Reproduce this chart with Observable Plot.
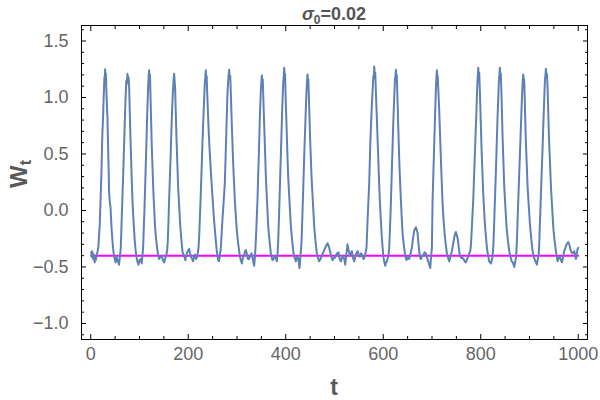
<!DOCTYPE html>
<html>
<head>
<meta charset="utf-8">
<script src="https://cdn.jsdelivr.net/npm/d3@7"></script>
<script src="https://cdn.jsdelivr.net/npm/@observablehq/plot@0.6"></script>
<style>
  html, body { margin: 0; padding: 0; background: #fff; }
  #chart { width: 600px; height: 400px; }
</style>
</head>
<body>
<div id="chart"></div>
<script>
// ---- data ----
const titleText = "=0.02";
const xLabel = "t";
const xTicks = [0, 200, 400, 600, 800, 1000];
const xMinorTicks = [50, 100, 150, 250, 300, 350, 450, 500, 550, 650, 700, 750, 850, 900, 950];
const yTicks = [-1.0, -0.5, 0.0, 0.5, 1.0, 1.5];
const yMinorTicks = [-1.1, -0.9, -0.8, -0.7, -0.6, -0.4, -0.3, -0.2, -0.1, 0.1, 0.2, 0.3, 0.4, 0.6, 0.7, 0.8, 0.9, 1.1, 1.2, 1.3, 1.4, 1.6];
const xDomain = [-19, 1019];
const yDomain = [-1.142, 1.637];
const baselineW = -0.4;
const baselineSpan = [1, 1000];

// W_t samples [t, W]
const wtSeries = [
  [1,-0.37],[2,-0.41],[3,-0.36],[4,-0.40],[5,-0.43],[6,-0.39],[8,-0.46],[9,-0.42],[10,-0.44],[12,-0.40],[14,-0.36],
  [15.7,-0.32],[17,-0.22],[18.5,-0.12],[20.5,0.15],[22,0.35],[23.2,0.59],[24,0.70],[25.3,0.83],[26.3,0.98],[27.3,1.09],[28,1.18],[28.7,1.14],[29.4,1.25],[30.2,1.19],[31,1.21],[32,1.06],[33,0.95],[34.2,0.83],[35.6,0.55],[36.5,0.40],[37.6,0.16],[39,0.08],[40.5,0.03],[42.5,-0.15],[44,-0.24],[45.5,-0.32],[47,-0.38],[49,-0.43],[51,-0.46],[53,-0.41],[55,-0.44],[58,-0.48],[60,-0.40],
  [61.6,-0.33],[63.6,-0.06],[65,0.12],[66.4,0.30],[67.8,0.50],[69.1,0.68],[70.5,0.88],[71.8,1.04],[73,1.15],[74,1.12],[75.3,1.21],[76.5,1.16],[77.5,1.18],[78.7,1.10],[80,0.88],[81.4,0.65],[82.8,0.45],[84.1,0.27],[85.5,0.10],[86.9,-0.03],[88.5,-0.15],[90.3,-0.27],[92,-0.35],[93.7,-0.41],[95.5,-0.45],[97.8,-0.48],[100,-0.44],[102.6,-0.43],[104.5,-0.47],[106,-0.40],
  [107.4,-0.33],[108.8,-0.15],[110.1,0.00],[111.5,0.20],[112.9,0.41],[114.3,0.62],[115.6,0.83],[116.7,0.97],[117.7,1.09],[118.7,1.18],[119.7,1.24],[120.7,1.17],[121.5,1.20],[122.4,1.04],[123.8,0.80],[125.2,0.56],[126.9,0.35],[128.6,0.15],[130.3,0.00],[132,-0.15],[134,-0.25],[136.1,-0.33],[138,-0.39],[140.2,-0.43],[143,-0.41],[145.7,-0.40],[148,-0.44],[150.5,-0.46],[153,-0.42],[155.3,-0.39],[156.8,-0.35],
  [158,-0.27],[159.4,-0.10],[160.7,0.09],[162.5,0.31],[164.2,0.53],[165.5,0.72],[166.9,0.89],[168,1.00],[169,1.09],[170,1.16],[171,1.21],[172,1.15],[173,1.09],[174.4,0.87],[175.8,0.65],[177.5,0.43],[179.2,0.21],[181.2,0.05],[183.3,-0.12],[185.7,-0.25],[188.1,-0.36],[190,-0.39],[192.2,-0.41],[194,-0.44],[196.3,-0.39],[199,-0.36],[201.8,-0.34],[204,-0.38],[205.9,-0.41],[208,-0.43],[210,-0.45],[212,-0.41],[214.1,-0.39],[216,-0.43],[217.5,-0.42],[219.5,-0.38],[221,-0.33],
  [222.3,-0.24],[224,-0.05],[225.7,0.15],[227.4,0.37],[229.1,0.59],[230.5,0.76],[231.9,0.91],[233,1.03],[233.9,1.12],[235,1.18],[236,1.24],[237,1.16],[237.8,1.19],[238.7,1.06],[240.4,0.87],[242.1,0.68],[244.2,0.51],[246.3,0.35],[248.5,0.20],[250.5,0.07],[253,-0.09],[254.8,-0.18],[256.6,-0.27],[258.3,-0.35],[260,-0.41],[261.5,-0.44],[263,-0.45],[264.8,-0.40],
  [266.8,-0.33],[268.4,-0.21],[270,-0.09],[272.5,0.07],[275,0.24],[276.8,0.50],[278.5,0.75],[279.5,0.90],[280.5,1.04],[281.7,1.13],[282.8,1.20],[283.9,1.245],[285,1.17],[286.2,1.19],[287.3,1.04],[288.3,0.90],[289.4,0.75],[291,0.55],[292.8,0.35],[294.2,0.22],[295.6,0.09],[297.6,-0.05],[299.7,-0.18],[302,-0.28],[304.4,-0.36],[306,-0.41],[307.9,-0.44],[310,-0.47],[312,-0.42],[314,-0.40],[316,-0.37],[318,-0.35],[320,-0.38],[322.5,-0.43],[325,-0.43],[327,-0.40],[329.8,-0.38],[332,-0.42],[333.5,-0.46],[335.2,-0.49],[337,-0.40],
  [338.6,-0.27],[340.3,-0.09],[342,0.09],[343.4,0.30],[344.8,0.50],[345.9,0.67],[346.9,0.83],[347.9,0.95],[348.9,1.06],[350,1.14],[351,1.195],[352,1.14],[352.8,1.16],[353.7,1.04],[355,0.86],[356.4,0.68],[357.8,0.49],[359.2,0.30],[360.8,0.15],[362.4,0.01],[364,-0.14],[366.7,-0.27],[369.4,-0.38],[371,-0.41],[372.8,-0.44],[375,-0.43],[377.6,-0.40],[379.7,-0.42],[381.7,-0.45],[383.2,-0.38],
  [384.5,-0.27],[385.9,-0.09],[387.2,0.09],[388.6,0.30],[390,0.50],[391.4,0.70],[392.7,0.89],[393.7,1.01],[394.7,1.12],[395.8,1.19],[396.8,1.263],[397.8,1.18],[398.6,1.21],[399.5,1.04],[400.9,0.85],[402.3,0.65],[403.6,0.47],[405,0.30],[406.8,0.15],[408.6,0.01],[410.5,-0.14],[413.2,-0.27],[416,-0.38],[418.3,-0.42],[420.7,-0.45],[423,-0.41],[425.5,-0.42],[427,-0.47],[428.2,-0.51],[430,-0.42],[431.2,-0.35],
  [432.4,-0.27],[433.8,-0.09],[435.1,0.09],[436.5,0.28],[437.8,0.47],[439.2,0.65],[440.6,0.83],[441.6,0.95],[442.6,1.06],[443.7,1.15],[444.7,1.204],[445.6,1.14],[446.4,1.16],[447.4,1.01],[448.8,0.81],[450.1,0.62],[451.5,0.46],[452.9,0.30],[454.7,0.15],[456.5,0.01],[458.3,-0.14],[461,-0.27],[463.8,-0.38],[466,-0.42],[468.6,-0.45],[471,-0.43],[473.4,-0.41],[476,-0.38],[478.9,-0.35],[482,-0.32],[485.7,-0.29],[488.5,-0.32],[491.2,-0.37],[493.5,-0.41],[496,-0.44],[498.5,-0.42],[500.7,-0.42],[502.8,-0.40],[504.9,-0.38],[507,-0.40],[508.3,-0.37],[510,-0.42],[513,-0.45],[515.5,-0.42],[517.8,-0.40],[520,-0.43],[522,-0.48],[524,-0.40],[526.7,-0.30],[528.5,-0.34],[531.5,-0.40],[533.5,-0.38],[535.6,-0.36],[538,-0.42],[540.4,-0.45],[542.5,-0.41],[544.8,-0.38],[547.3,-0.36],[549.5,-0.39],[552,-0.41],[554.5,-0.38],[557.5,-0.40],[559.3,-0.43],[561,-0.42],[562.8,-0.39],[564.4,-0.36],
  [565.7,-0.33],[567.8,-0.09],[569.5,0.08],[571.2,0.24],[573.3,0.57],[574.6,0.72],[576,0.87],[577.4,1.00],[578.7,1.10],[579.7,1.19],[580.6,1.17],[581.5,1.274],[582.5,1.20],[583.6,1.22],[585,1.04],[586,0.92],[587,0.81],[588.3,0.64],[589.7,0.48],[591.3,0.27],[593,0.09],[594.8,-0.06],[596.5,-0.20],[598.5,-0.32],[600.6,-0.42],[602.3,-0.46],[604,-0.49],[605.7,-0.46],[607.4,-0.45],[609.2,-0.42],[610.9,-0.40],
  [612.2,-0.33],[613.6,-0.18],[615,-0.02],[616.4,0.18],[617.8,0.38],[619.2,0.58],[620.5,0.77],[621.9,0.93],[623,1.05],[624.1,1.16],[625,1.19],[626,1.245],[627,1.17],[627.8,1.20],[628.7,1.06],[629.6,0.93],[630.9,0.72],[632.8,0.45],[634.5,0.26],[636.2,0.09],[637.9,-0.06],[639.6,-0.20],[642,-0.30],[644.4,-0.38],[646,-0.42],[647.8,-0.44],[650.5,-0.41],[653.3,-0.43],[656,-0.38],[658.8,-0.33],[661,-0.25],[663.5,-0.18],[665.2,-0.16],[667,-0.15],[668.7,-0.17],[670.4,-0.20],[672,-0.28],[673.8,-0.36],[675.5,-0.41],[677.2,-0.43],[679.6,-0.40],[682,-0.40],[684.7,-0.37],[687.5,-0.38],[690,-0.42],[692.3,-0.45],[694.4,-0.48],[696.4,-0.51],[698,-0.42],[699.8,-0.33],
  [701.2,0.09],[702.9,0.34],[704.6,0.59],[706,0.80],[707.3,0.98],[708.2,1.10],[709.1,1.18],[710,1.24],[711,1.17],[711.8,1.19],[712.9,1.07],[714.8,0.89],[716.5,0.67],[718.3,0.45],[720,0.25],[721.7,0.06],[723.7,-0.08],[725.8,-0.20],[728.2,-0.30],[730.6,-0.38],[733,-0.42],[735.4,-0.45],[738,-0.41],[740.8,-0.36],[743.2,-0.30],[745.6,-0.24],[747.3,-0.21],[749,-0.19],[751,-0.22],[753.1,-0.26],[755,-0.33],[757.2,-0.40],[760,-0.42],[762.7,-0.42],[764.8,-0.43],[767,-0.45],[769.6,-0.46],[772,-0.43],[774.3,-0.41],[776.4,-0.38],[778.5,-0.36],
  [780,-0.30],[781.2,-0.20],[782.9,-0.05],[784.6,0.09],[786.3,0.30],[788,0.50],[789.4,0.67],[790.8,0.83],[791.8,0.97],[792.8,1.10],[793.9,1.19],[794.9,1.263],[795.9,1.18],[796.9,1.22],[798.3,1.04],[800,0.79],[801.7,0.54],[803.4,0.34],[805.1,0.15],[806.8,0.01],[808.5,-0.12],[810.6,-0.23],[812.7,-0.33],[815,-0.40],[817.4,-0.45],[819,-0.46],[820.9,-0.47],[822.6,-0.44],[824.3,-0.41],[826,-0.30],
  [827.7,-0.09],[829.4,0.13],[831.1,0.35],[832.8,0.59],[834.5,0.83],[835.9,0.99],[837.3,1.15],[838.3,1.20],[839.3,1.263],[840.3,1.19],[841.2,1.21],[842.1,1.09],[843.5,0.87],[844.8,0.65],[846.5,0.43],[848.2,0.21],[850.6,0.03],[853,-0.15],[855.8,-0.27],[858.5,-0.36],[861,-0.41],[863.3,-0.45],[866,-0.46],[868.7,-0.50],[870.5,-0.46],[872.2,-0.42],[873.2,-0.36],
  [874.2,-0.27],[875.6,-0.09],[877,0.09],[878.7,0.30],[880.4,0.50],[881.8,0.67],[883.1,0.83],[884.2,0.96],[885.2,1.06],[886.2,1.15],[887.2,1.204],[888.2,1.14],[889,1.16],[890,1.03],[891.3,0.81],[892.7,0.59],[894.4,0.40],[896.1,0.21],[898.5,0.04],[900.9,-0.12],[903.6,-0.25],[906.4,-0.36],[908.8,-0.41],[911.2,-0.44],[913.2,-0.46],[915.2,-0.48],[917,-0.43],[918.7,-0.40],[919.8,-0.31],
  [920.7,-0.20],[922.1,-0.03],[923.5,0.15],[925.2,0.36],[926.9,0.56],[928.2,0.74],[929.6,0.91],[930.7,1.04],[931.7,1.15],[932.7,1.20],[933.7,1.254],[934.7,1.18],[935.7,1.21],[937.1,1.09],[938.5,0.87],[939.9,0.65],[942,0.43],[944,0.21],[946.4,0.03],[948.8,-0.15],[951.5,-0.27],[954.2,-0.36],[956,-0.41],[957.7,-0.45],[960,-0.42],[962.4,-0.41],[964.5,-0.44],[966.6,-0.46],[969,-0.41],[971.3,-0.36],[973.7,-0.33],[976.1,-0.30],[979.5,-0.28],[981.6,-0.30],[983.7,-0.34],[986,-0.37],[988.4,-0.38],[990,-0.37],[991.9,-0.36],[993.6,-0.40],[995.3,-0.43],[997,-0.38],[998.7,-0.34],[1000,-0.33]
];

// ---- chart ----
const W = 600, H = 400;
const mL = 81, mR = 13, mT = 25, mB = 61;
const tickColor = "#000";
const labelColor = "#666";
const fmtY = d => (Math.abs(d) < 1e-9 ? "0.0" : d.toFixed(1).replace("-", "\u2212"));
const fmtX = d => String(d);
const series = wtSeries.map(([t, w]) => ({t, w}));
const baseRows = baselineSpan.map(t => ({t, w: baselineW}));

const chart = Plot.plot({
  width: W, height: H,
  marginLeft: mL, marginRight: mR, marginTop: mT, marginBottom: mB,
  style: {fontFamily: "'Liberation Sans', Arial, sans-serif", background: "#fff", color: labelColor, overflow: "visible"},
  x: {domain: xDomain, label: null},
  y: {domain: yDomain, label: null},
  marks: [
    Plot.line(baseRows, {x: "t", y: "w", stroke: "#FF00FF", strokeWidth: 2}),
    Plot.line(series, {x: "t", y: "w", stroke: "#5E81B5", strokeWidth: 2, strokeLinejoin: "round"}),
    Plot.frame({stroke: tickColor, strokeWidth: 1}),
    Plot.axisX(xTicks, {anchor: "bottom", tickSize: -5, tickPadding: 13, tickFormat: fmtX, fontSize: 18, stroke: tickColor, fill: labelColor, label: null}),
    Plot.axisX(xMinorTicks, {anchor: "bottom", tickSize: -3, tickFormat: () => "", stroke: tickColor, label: null}),
    Plot.axisX(xTicks, {anchor: "top", tickSize: -5, tickFormat: () => "", stroke: tickColor, label: null}),
    Plot.axisX(xMinorTicks, {anchor: "top", tickSize: -3, tickFormat: () => "", stroke: tickColor, label: null}),
    Plot.axisY(yTicks, {anchor: "left", tickSize: -5, tickPadding: 18, tickFormat: fmtY, fontSize: 18, stroke: tickColor, fill: labelColor, label: null}),
    Plot.axisY(yMinorTicks, {anchor: "left", tickSize: -3, tickFormat: () => "", stroke: tickColor, label: null}),
    Plot.axisY(yTicks, {anchor: "right", tickSize: -5, tickFormat: () => "", stroke: tickColor, label: null}),
    Plot.axisY(yMinorTicks, {anchor: "right", tickSize: -3, tickFormat: () => "", stroke: tickColor, label: null})
  ]
});

const svg = d3.select(chart);
const cx = (mL + W - mR) / 2;
const cy = (mT + H - mB) / 2;
const font = "'Liberation Sans', Arial, sans-serif";

// title  σ₀=0.02
const title = svg.append("text")
  .attr("x", cx).attr("y", 20)
  .attr("text-anchor", "middle")
  .attr("font-family", font).attr("font-size", 18).attr("font-weight", "bold")
  .attr("fill", "#555");
title.append("tspan").attr("font-style", "italic").text("\u03c3");
title.append("tspan").attr("font-size", 12).attr("dy", 4).text("0");
title.append("tspan").attr("dy", -4).text(titleText);

// x label
svg.append("text")
  .attr("x", cx).attr("y", 395)
  .attr("text-anchor", "middle")
  .attr("font-family", font).attr("font-size", 23).attr("font-weight", "bold")
  .attr("fill", "#595959")
  .text(xLabel);

// y label  W_t
const yl = svg.append("text")
  .attr("transform", `translate(27,${cy - 8}) rotate(-90)`)
  .attr("text-anchor", "middle")
  .attr("font-family", font).attr("font-size", 24).attr("font-weight", "bold")
  .attr("fill", "#595959");
yl.append("tspan").text("W");
yl.append("tspan").attr("font-size", 16).attr("dy", 4).text("t");

document.getElementById("chart").appendChild(chart);
</script>
</body>
</html>
